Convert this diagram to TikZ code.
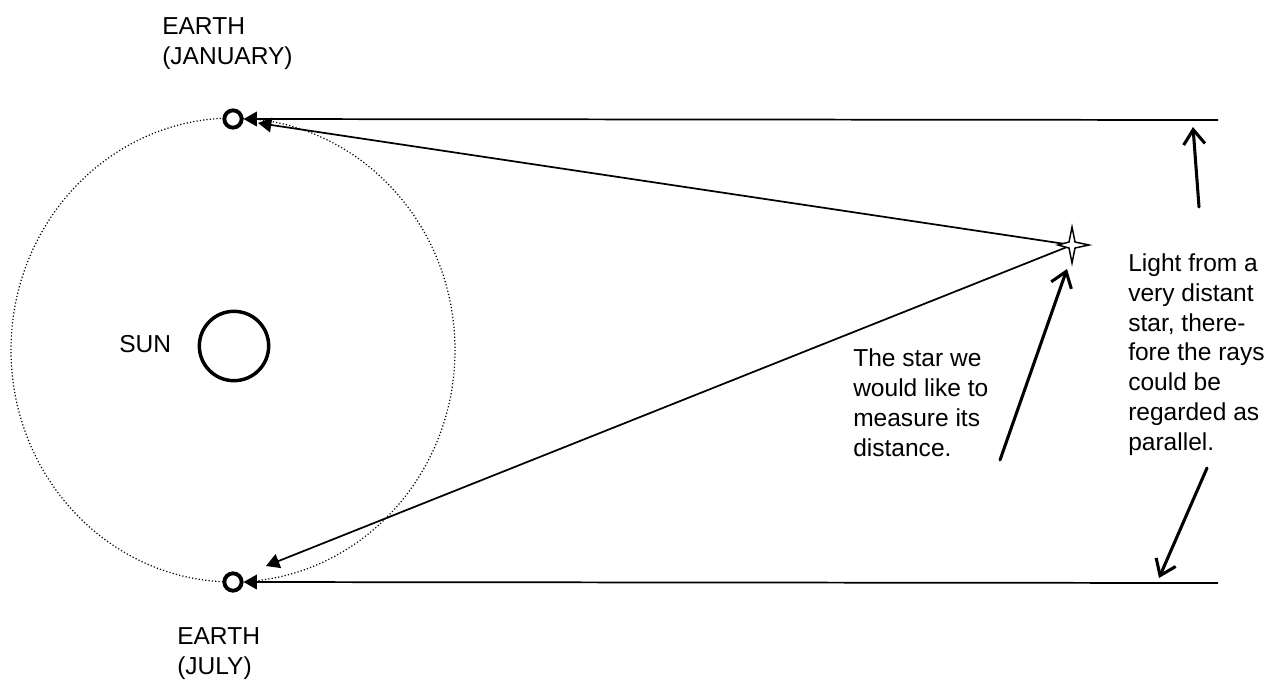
\documentclass[tikz,border=0pt]{standalone}
\usepackage{fontspec}
\setmainfont{Liberation Sans}
\usetikzlibrary{arrows.meta}
\begin{document}
\begin{tikzpicture}[x=0.75pt,y=-0.75pt,
  lbl/.style={anchor=base west,inner sep=0pt,align=left,font=\fontsize{18.4}{22.3}\selectfont},
  earth/.style={circle,draw,line width=2.9pt,fill=white,minimum size=13pt,inner sep=0pt},
  ray/.style={line width=1.3pt,-{Triangle[length=10pt,width=11pt]}},
  pointer/.style={line width=2.3pt,line cap=round,-{Straight Barb[length=11pt,width=16pt,line width=2.3pt]}}]
\useasboundingbox (0,0) rectangle (1266,679);
% orbit
\draw[line width=0.9pt,dash pattern=on 0.9pt off 1.6pt] (233,350) ellipse [x radius=222, y radius=232];
% sun
\node[circle,draw,line width=2.6pt,minimum size=52pt,inner sep=0pt] (sun) at (234,346) {};
\node[lbl] (sunlbl) at (119,352) {SUN};
% earths
\node[earth] (ej) at (233,119) {};
\node[earth] (ejul) at (233,582) {};
\node[lbl] (ejlbl) at (162,64.7) {EARTH\\(JANUARY)};
\node[lbl] (ejullbl) at (177,674) {EARTH\\(JULY)};
% coordinates
\coordinate (star) at (1072,245);
\coordinate (far1) at (1218,120);
\coordinate (far2) at (1218,583);
\coordinate (hitj) at (258,123);
\coordinate (hitjul) at (266,566);
% parallel rays
\draw[ray] (far1) -- (ej);
\draw[ray] (far2) -- (ejul);
% rays from the star
\draw[ray] (star) -- (hitj);
\draw[ray] (star) -- (hitjul);
% star shape
\draw[line width=1.1pt,fill=white] (1072,227) -- (1075,242) -- (1089,245) -- (1075,248) -- (1072,263) -- (1069,248) -- (1058,245) -- (1069,242) -- cycle;
% labels
\node[lbl] (lab1) at (853,456) {The star we\\would like to\\measure its\\distance.};
\node[lbl] (lab2) at (1128,450) {Light from a\\very distant\\star, there-\\fore the rays\\could be\\regarded as\\parallel.};
% pointers
\coordinate (t1) at (1000,460);
\coordinate (h1) at (1067,269);
\coordinate (t2) at (1199,207);
\coordinate (h2) at (1193,127);
\coordinate (t3) at (1207,468);
\coordinate (h3) at (1159,578);
\draw[pointer] (t1) -- (h1);
\draw[pointer] (t2) -- (h2);
\draw[pointer] (t3) -- (h3);
\end{tikzpicture}
\end{document}
